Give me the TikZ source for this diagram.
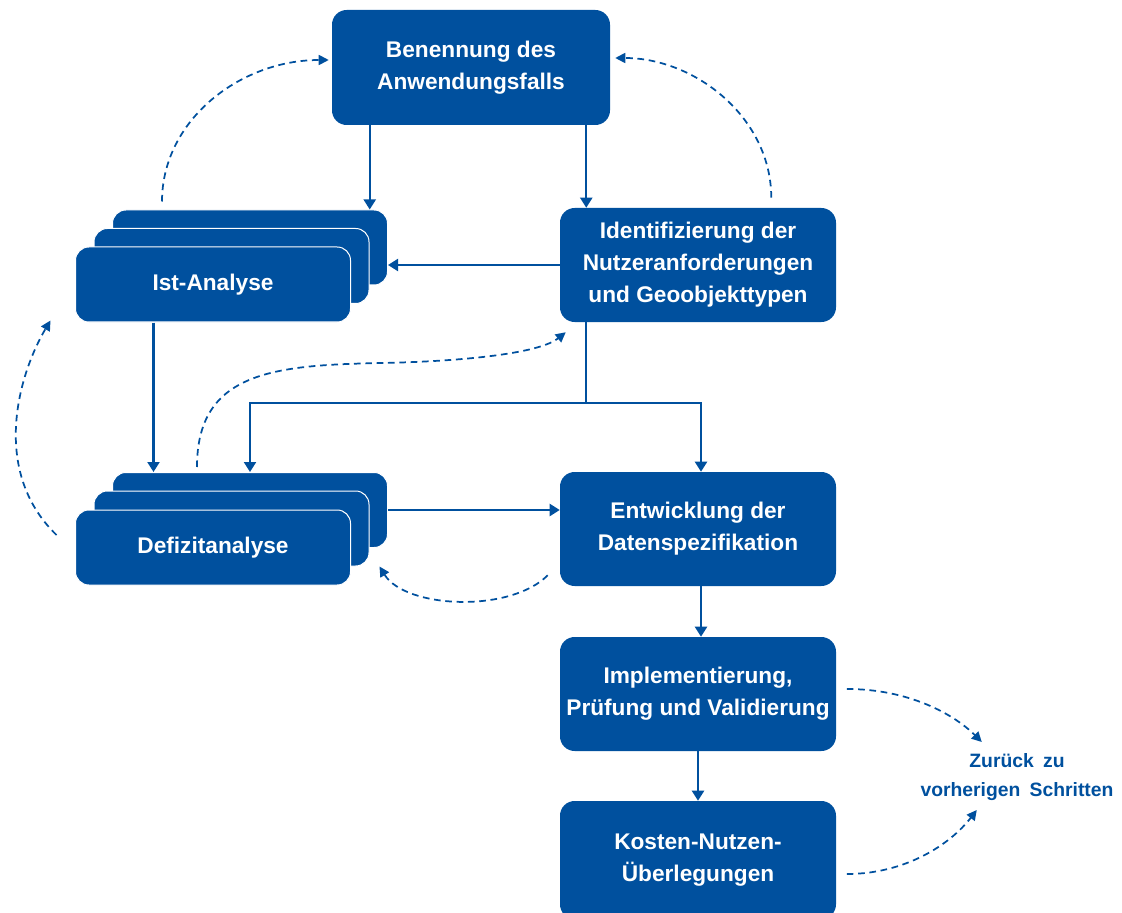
\documentclass[tikz,border=0pt]{standalone}
\usepackage{fontspec}
\setmainfont{Liberation Sans}
\usetikzlibrary{arrows.meta,calc}
\definecolor{dblue}{RGB}{0,80,158}
\begin{document}
\begin{tikzpicture}[x=0.75pt,y=-0.75pt,
  box/.style={fill=dblue, rounded corners=11pt, text=white, align=center, inner sep=0pt,
    font=\bfseries\fontsize{17}{24}\selectfont, minimum width=207pt, minimum height=85.5pt},
  stackbox/.style={fill=dblue, draw=white, line width=0.75pt, rounded corners=10pt, text=white,
    align=center, inner sep=0pt, font=\bfseries\fontsize{17}{24}\selectfont,
    minimum width=206.25pt, minimum height=56.25pt},
  arr/.style={draw=dblue, line width=1.6pt, -{Triangle[length=7.5pt,width=9pt]}},
  plain/.style={draw=dblue, line width=1.6pt},
  back/.style={draw=dblue, line width=1.3pt, dash pattern=on 5pt off 3.5pt,
    -{Triangle[length=7.5pt,width=7.5pt]}},
  lbl/.style={text=dblue, align=center, inner sep=0pt,
    font=\bfseries\fontsize{14.5}{22}\selectfont}]
\useasboundingbox (0,0) rectangle (1122,913);
\clip (0,0) rectangle (1122,913);

% main boxes
\node[box, minimum width=208.5pt, minimum height=86.25pt] (benennung) at (471,67.5) {Benennung des\\Anwendungsfalls};
\node[box] (ident) at (698,265) {Identifizierung der\\Nutzeranforderungen\\und Geoobjekttypen};
\node[box] (entw) at (698,529) {Entwicklung der\\Datenspezifikation};
\node[box] (impl) at (698,694) {Implementierung,\\Prüfung und Validierung};
\node[box, minimum height=88.5pt] (kosten) at (698,860) {Kosten-Nutzen-\\Überlegungen};

% stacked boxes
\node[stackbox] (istback) at (250,247.5) {};
\node[stackbox] (istmid) at (231.5,266) {};
\node[stackbox] (istfront) at (213,284.5) {Ist-Analyse};
\node[stackbox] (defback) at (250,510) {};
\node[stackbox] (defmid) at (231.5,528.5) {};
\node[stackbox] (deffront) at (213,547.5) {Defizitanalyse};

% label
\node[lbl] (backlbl) at (1017,777) {Zurück\hspace{0.2em} zu\\vorherigen\hspace{0.2em} Schritten};

% solid connectors
\coordinate (b1) at ($(benennung.south west)+(38,0)$);
\draw[arr] (b1) -- (b1 |- istback.north);
\coordinate (b2) at ($(benennung.south east)+(-24,0)$);
\draw[arr] (b2) -- (b2 |- ident.north);
\draw[arr] (ident.west) -- (ident.west -| istback.east);
\coordinate (i1) at ($(istfront.south west)+(78.5,0)$);
\draw[arr] (i1) -- (i1 |- defback.north);
\coordinate (s0) at ($(ident.south west)+(26,0)$);
\coordinate (split) at ($(s0)+(0,81)$);
\coordinate (e1) at ($(entw.north)+(3,0)$);
\draw[plain] (s0) -- (split);
\draw[arr] (split) -| (defback.north);
\draw[arr] (split) -| (e1);
\draw[arr] (defback.east) -- (defback.east -| entw.west);
\coordinate (e2) at ($(entw.south)+(3,0)$);
\draw[arr] (e2) -- (e2 |- impl.north);
\draw[arr] (impl.south) -- (kosten.north);

% dashed return connectors
\coordinate (d1s) at ($(istback.north west)+(50,-8)$);
\coordinate (d1e) at ($(benennung.west)+(-3,-7.5)$);
\draw[back] (d1s) .. controls +(0,-81) and +(-89,0) .. (d1e);

\coordinate (d2s) at ($(ident.north east)+(-65,-10)$);
\coordinate (d2e) at ($(benennung.east)+(5,-9.5)$);
\draw[back] (d2s) .. controls +(0,-80) and +(80,0) .. (d2e);

\coordinate (d3s) at ($(deffront.west)+(-18.5,-12.5)$);
\coordinate (d3e) at ($(istfront.south west)+(-24.5,-2)$);
\draw[back] (d3s) .. controls +(-67,-65) and +(-31,52) .. (d3e);

\coordinate (d4s) at ($(defback.north west)+(85,-5)$);
\coordinate (d4m) at (383,363);
\coordinate (d4e) at ($(ident.south west)+(6,10)$);
\draw[back] (d4s) .. controls +(0,-95) and +(-110,2) .. (d4m) .. controls +(90,-2) and +(-25,20) .. (d4e);

\coordinate (d5s) at ($(entw.south west)+(-12,-11)$);
\coordinate (d5e) at ($(defmid.south east)+(10,0)$);
\draw[back] (d5s) .. controls +(-38,38) and +(26,42) .. (d5e);

\coordinate (d6s) at ($(impl.east)+(10.5,-5)$);
\coordinate (d6e) at ($(impl.east)+(145.5,48)$);
\draw[back] (d6s) .. controls +(63,0) and +(-27,-27) .. (d6e);

\coordinate (d7s) at ($(kosten.east)+(10.5,14)$);
\coordinate (d7e) at ($(kosten.east)+(140.5,-50)$);
\draw[back] (d7s) .. controls +(58,0) and +(-27,35) .. (d7e);
\end{tikzpicture}
\end{document}
